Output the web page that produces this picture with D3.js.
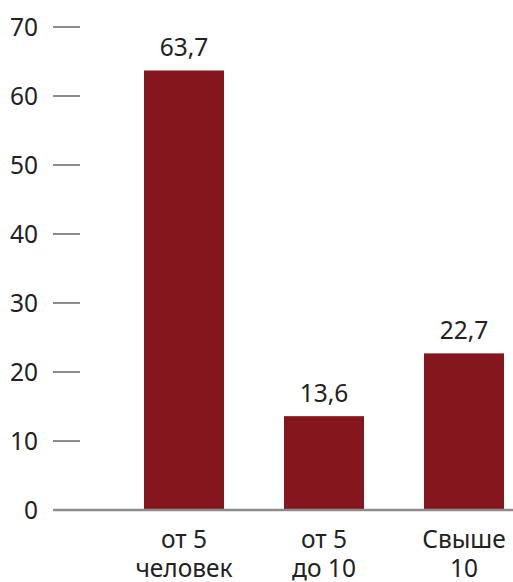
<!DOCTYPE html>
<html><head><meta charset="utf-8">
<script src="https://cdn.jsdelivr.net/npm/d3@7"></script>
<style>body{margin:0;background:#fff}svg{display:block}text{font-family:"Noto Sans",sans-serif;fill:#222}</style>
</head><body><svg id="c" width="513" height="582"></svg>
<script>
const categories = [["от 5","человек"],["от 5","до 10"],["Свыше","10"]];
const values = [63.7, 13.6, 22.7];
const valueLabels = ["63,7","13,6","22,7"];
const yTicks = [0,10,20,30,40,50,60,70];

const svg = d3.select("#c");
const y = d3.scaleLinear().domain([0,70]).range([510,27]);
const x = d3.scaleBand().domain(d3.range(categories.length)).range([114,534]).paddingInner(3/7).paddingOuter(3/14);
const fs = 24.5;

// y ticks
const yg = svg.append("g");
yg.selectAll("line.t").data(yTicks.filter(d=>d>0)).join("line")
  .attr("x1",53).attr("x2",80).attr("y1",d=>y(d)).attr("y2",d=>y(d))
  .attr("stroke","#8c8c8c").attr("stroke-width",2);
yg.selectAll("text").data(yTicks).join("text")
  .attr("x",38).attr("y",d=>y(d)).attr("dy","0.35em").attr("text-anchor","end")
  .attr("font-size",fs).text(d=>d);

// bars
svg.selectAll("rect").data(values).join("rect")
  .attr("x",(d,i)=>x(i)).attr("width",x.bandwidth())
  .attr("y",d=>y(d)).attr("height",d=>y(0)-y(d)).attr("fill","#86161e");

// baseline
svg.append("line").attr("x1",53).attr("x2",513).attr("y1",y(0)).attr("y2",y(0))
  .attr("stroke","#8c8c8c").attr("stroke-width",2.5);

// value labels
svg.selectAll("text.v").data(values).join("text").attr("class","v")
  .attr("x",(d,i)=>x(i)+x.bandwidth()/2).attr("y",d=>y(d)-14)
  .attr("text-anchor","middle").attr("font-size",fs).text((d,i)=>valueLabels[i]);

// category labels
const cg = svg.selectAll("text.c").data(categories).join("text").attr("class","c")
  .attr("x",(d,i)=>x(i)+x.bandwidth()/2).attr("y",548)
  .attr("text-anchor","middle").attr("font-size",fs);
cg.selectAll("tspan").data(d=>d).join("tspan")
  .attr("x",function(){return this.parentNode.getAttribute("x");})
  .attr("dy",(d,i)=>i?29:0).text(d=>d);
</script></body></html>
